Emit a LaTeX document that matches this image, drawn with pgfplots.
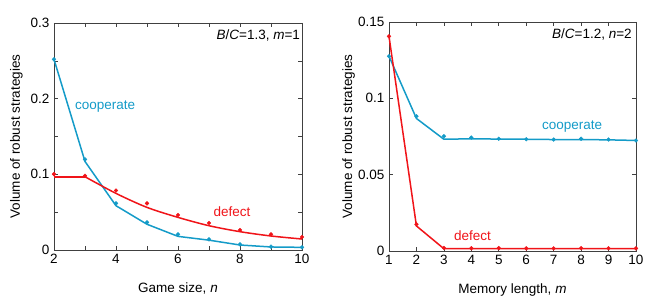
\documentclass[border=0pt]{standalone}
\usepackage{pgfplots}
\pgfplotsset{compat=1.18}
\usepackage{fontspec}
\setmainfont{Liberation Sans}
\definecolor{coop}{RGB}{20,155,200}
\definecolor{defc}{RGB}{240,20,25}
\newcommand{\fs}{\fontsize{13.5}{16}\selectfont}
\pgfplotsset{
  myax/.style={
    scale only axis,
    axis line style={black!75, line width=0.6pt},
    tick style={black!75, line width=0.6pt},
    tick align=inside,
    major tick length=4pt,
    minor tick length=4pt,
    /pgf/number format/assume math mode=true,
    font=\fs,
    tick label style={font=\fs},
    label style={font=\fs},
    scaled y ticks=false,
    xticklabel style={yshift=-1pt},
    yticklabel style={xshift=-1pt},
    clip=false,
  },
  ln/.style={line width=1.5pt, no marks},
  mk/.style={only marks, mark=*, mark size=1.9pt},
}
\begin{document}
\begin{tikzpicture}
\path[use as bounding box] (0,0) rectangle (649pt,307pt);
\begin{axis}[myax,
  at={(54pt,57pt)}, anchor=south west,
  width=248pt, height=227pt,
  xmin=2, xmax=10, ymin=0, ymax=0.3,
  xtick={2,4,6,8,10}, minor xtick={3,5,7,9},
  ytick={0,0.1,0.2,0.3}, minor ytick={0.05,0.15,0.25},
  yticklabels={0,0.1,0.2,0.3},
  xlabel={Game size, \textit{n}},
  ylabel={Volume of robust strategies},
  xlabel style={at={(axis description cs:0.5,0)}, anchor=base, yshift=-43pt},
  ylabel style={at={([xshift=-34pt]axis description cs:0,0.5)}, anchor=base},
]
\addplot[ln, coop] coordinates {(2,0.252)(3,0.117)(4,0.0585)(5,0.034)(6,0.018)(7,0.013)(8,0.0066)(9,0.004)(10,0.0035)};
\addplot[mk, coop] coordinates {(2,0.252)(3,0.1197)(4,0.0616)(5,0.0365)(6,0.0207)(7,0.0141)(8,0.0075)(9,0.0044)(10,0.0035)};
\addplot[ln, defc] coordinates {(2,0.0968)(3,0.0968)};
\addplot[ln, defc, smooth, tension=0.5] coordinates {(3,0.0968)(4,0.0748)(5,0.0563)(6,0.0431)(7,0.0321)(8,0.0242)(9,0.0185)(10,0.0145)};
\addplot[mk, defc] coordinates {(2,0.1003)(3,0.098)(4,0.0787)(5,0.0616)(6,0.0462)(7,0.0356)(8,0.0264)(9,0.0207)(10,0.0172)};
\node[coop, font=\fs] at (axis cs:3.65,0.189) {cooperate};
\node[defc, font=\fs] at (axis cs:7.74,0.05) {defect};
\node[anchor=east, font=\fs, inner sep=0pt] at (axis cs:9.94,0.284) {\textit{B}/\textit{C}=1.3, \textit{m}=1};
\end{axis}
\begin{axis}[myax,
  at={(389pt,56pt)}, anchor=south west,
  width=247pt, height=229pt,
  xmin=1, xmax=10, ymin=0, ymax=0.15,
  xtick={1,...,10},
  ytick={0,0.05,0.1,0.15},
  yticklabels={0,0.05,0.1,0.15},
  xlabel={Memory length, \textit{m}},
  ylabel={Volume of robust strategies},
  xlabel style={at={(axis description cs:0.5,0)}, anchor=base, yshift=-43pt},
  ylabel style={at={([xshift=-37pt]axis description cs:0,0.5)}, anchor=base},
]
\addplot[ln, coop] coordinates {(1,0.1276)(2,0.0868)(3,0.0732)(4,0.0735)(5,0.0733)(6,0.0732)(7,0.073)(8,0.073)(9,0.0728)(10,0.0724)};
\addplot[mk, coop] coordinates {(1,0.1276)(2,0.0882)(3,0.0752)(4,0.0743)(5,0.0735)(6,0.0732)(7,0.073)(8,0.0735)(9,0.073)(10,0.0724)};
\addplot[ln, defc] coordinates {(1,0.1406)(2,0.0164)(3,0.0015)(4,0.0015)(5,0.0015)(6,0.0015)(7,0.0015)(8,0.0015)(9,0.0015)(10,0.0015)};
\addplot[mk, defc] coordinates {(1,0.1406)(2,0.0175)(3,0.002)(4,0.0018)(5,0.0019)(6,0.0017)(7,0.0017)(8,0.0019)(9,0.0018)(10,0.0017)};
\node[coop, font=\fs] at (axis cs:7.67,0.0816) {cooperate};
\node[defc, font=\fs] at (axis cs:4.04,0.0103) {defect};
\node[anchor=east, font=\fs, inner sep=0pt] at (axis cs:9.85,0.1415) {\textit{B}/\textit{C}=1.2, \textit{n}=2};
\end{axis}
\end{tikzpicture}
\end{document}
